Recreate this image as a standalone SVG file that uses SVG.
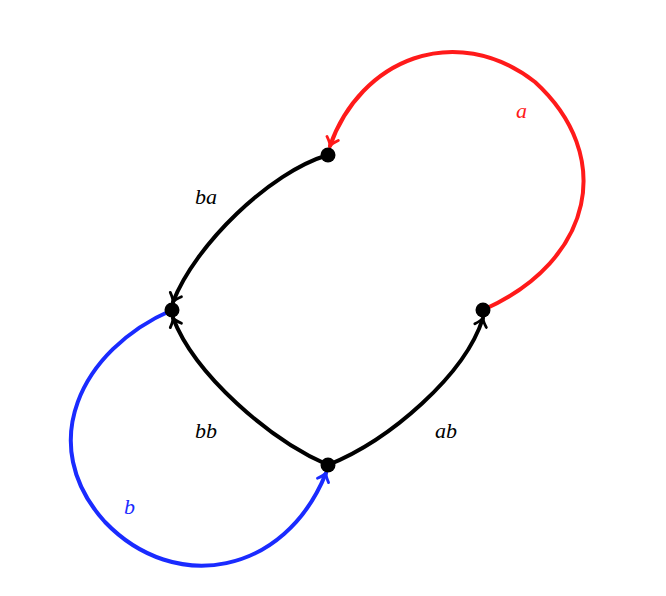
<svg xmlns="http://www.w3.org/2000/svg" width="666" height="596" viewBox="0 0 666 596">
<style>
.e{fill:none;stroke-width:4;stroke-linecap:round}
.l{font-family:'Liberation Serif',serif;font-style:italic;font-size:22px}
</style>
<defs>
<marker id="ak" viewBox="-10 -8 12 16" markerWidth="12" markerHeight="16" refX="0" refY="0" orient="auto" markerUnits="userSpaceOnUse"><path d="M-8,-6 Q-3,-1 0,0 Q-3,1 -8,6" fill="none" stroke="#000" stroke-width="2.8" stroke-linecap="round"/></marker>
<marker id="ar" viewBox="-10 -8 12 16" markerWidth="12" markerHeight="16" refX="0" refY="0" orient="auto" markerUnits="userSpaceOnUse"><path d="M-8,-6 Q-3,-1 0,0 Q-3,1 -8,6" fill="none" stroke="#ff1a1a" stroke-width="2.8" stroke-linecap="round"/></marker>
<marker id="ab" viewBox="-10 -8 12 16" markerWidth="12" markerHeight="16" refX="0" refY="0" orient="auto" markerUnits="userSpaceOnUse"><path d="M-8,-6 Q-3,-1 0,0 Q-3,1 -8,6" fill="none" stroke="#1a2bff" stroke-width="2.8" stroke-linecap="round"/></marker>
</defs>
<rect width="666" height="596" fill="#fff"/>
<g id="edges">
<path class="e" stroke="#000" marker-end="url(#ak)" d="M328,155 C270,172 195,245 173,302"/>
<path class="e" stroke="#000" marker-end="url(#ak)" d="M328,465 C270,440 195,375 173,318"/>
<path class="e" stroke="#000" marker-end="url(#ak)" d="M328,465 C390,440 465,375 483,318"/>
<path class="e" stroke="#ff1a1a" marker-end="url(#ar)" d="M483,310 C595,260 615,155 535,82 C455,20 360,60 330,146"/>
<path class="e" stroke="#1a2bff" marker-end="url(#ab)" d="M172,310 C80,350 35,445 105,522 C175,595 285,575 326,473"/>
</g>
<g id="n_top"><circle cx="328" cy="155" r="7.5"/></g>
<g id="n_left"><circle cx="172" cy="310" r="7.5"/></g>
<g id="n_right"><circle cx="483" cy="310" r="7.5"/></g>
<g id="n_bottom"><circle cx="328" cy="465" r="7.5"/></g>
<g id="labels">
<text class="l" x="195" y="204">ba</text>
<text class="l" x="195" y="438">bb</text>
<text class="l" x="435" y="438">ab</text>
<text class="l" x="516" y="118" fill="#ff1a1a">a</text>
<text class="l" x="124" y="514" fill="#1a2bff">b</text>
</g>
</svg>
